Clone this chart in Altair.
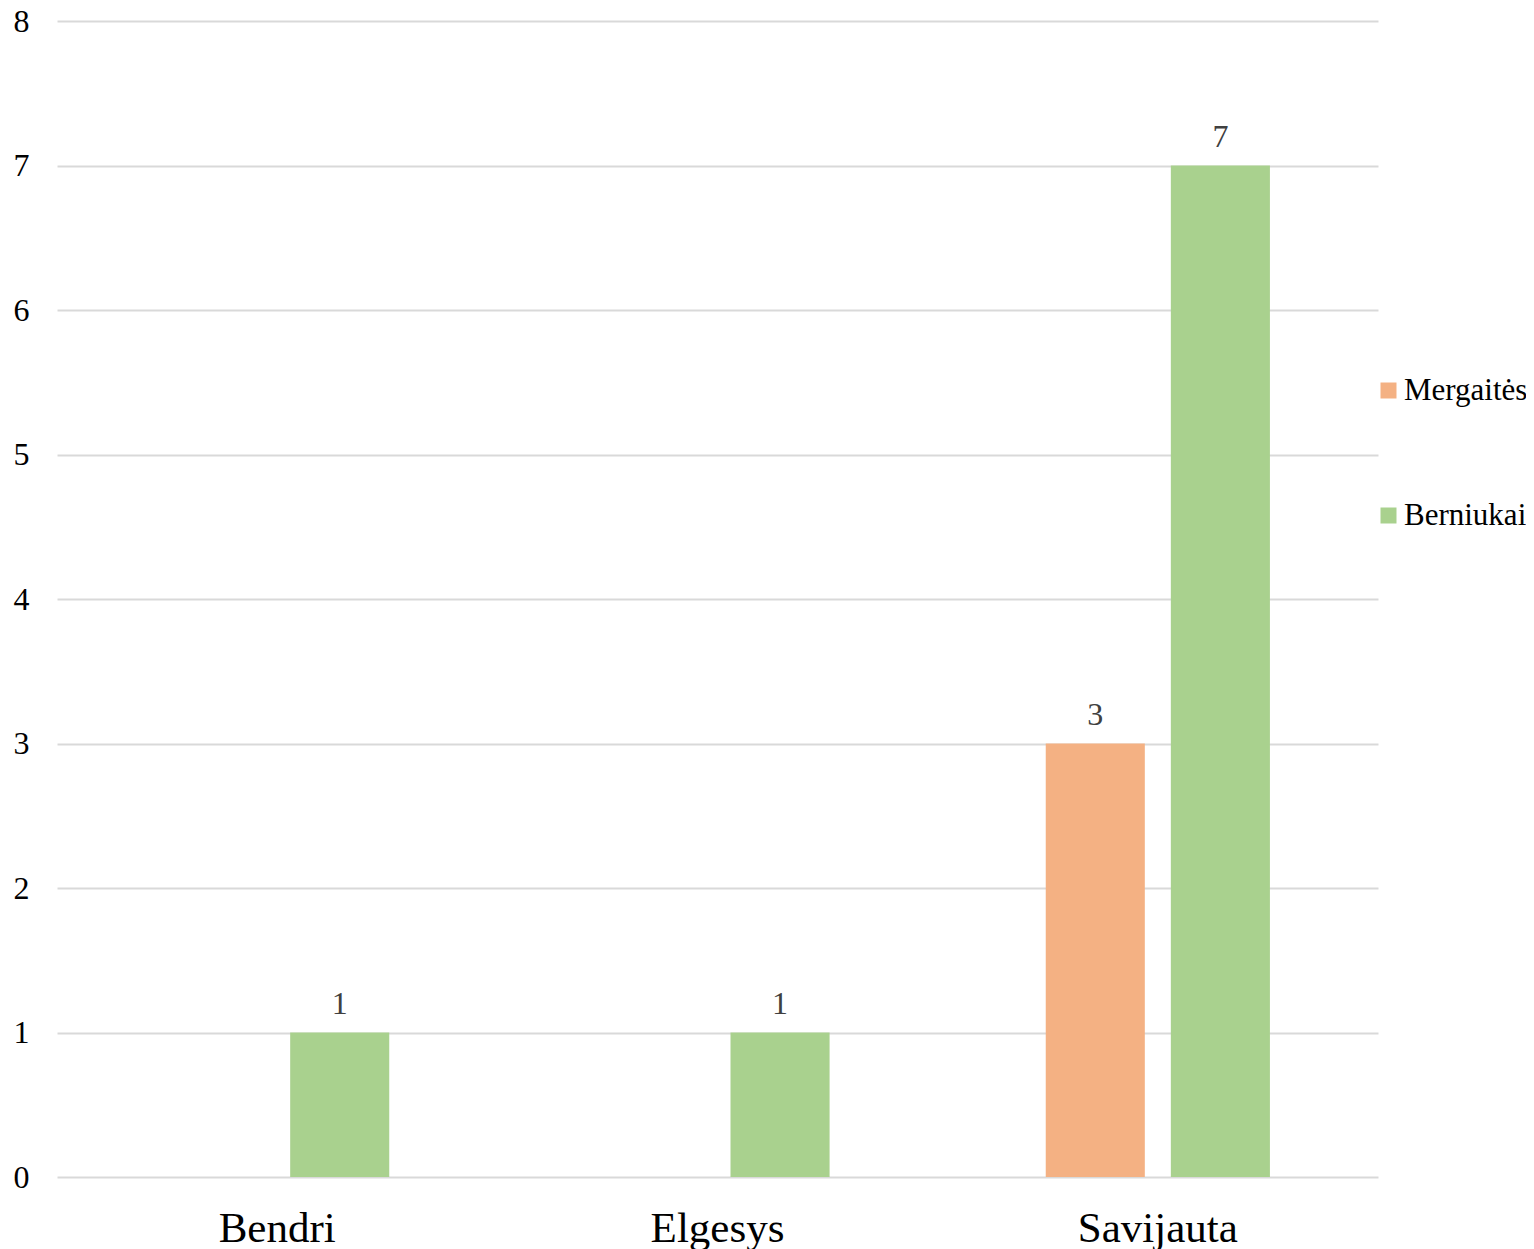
import altair as alt
import pandas as pd

categories = ["Bendri", "Elgesys", "Savijauta"]
series = ["Mergaitės", "Berniukai"]
mergaites = [0, 0, 3]
berniukai = [1, 1, 7]
colors = ["#F4B183", "#A9D18E"]

rows = []
for i, c in enumerate(categories):
    rows.append({"kategorija": c, "grupe": series[0], "reiksme": mergaites[i]})
    rows.append({"kategorija": c, "grupe": series[1], "reiksme": berniukai[i]})
df = pd.DataFrame(rows)

FONT = "Liberation Serif"

x = alt.X("kategorija:N", sort=categories, title=None,
          scale=alt.Scale(paddingInner=0, paddingOuter=0),
          axis=alt.Axis(labelAngle=0, labelFontSize=43, labelFont=FONT, labelColor="#000000",
                        ticks=False, domain=False, labelPadding=30, grid=False))
xo = alt.XOffset("grupe:N", sort=series,
                 scale=alt.Scale(paddingInner=0.208, paddingOuter=0.864))
y = alt.Y("reiksme:Q", title=None,
          scale=alt.Scale(domain=[0, 8], nice=False),
          axis=alt.Axis(values=list(range(9)), labelFontSize=32, labelFont=FONT,
                        labelColor="#000000", ticks=False, domain=False, labelPadding=28,
                        gridColor="#D9D9D9", gridWidth=2))

bars = alt.Chart(df).mark_bar().encode(
    x=x, xOffset=xo, y=y,
    color=alt.Color("grupe:N", sort=series,
                    scale=alt.Scale(domain=series, range=colors),
                    legend=alt.Legend(title=None, orient="none", legendX=1316, legendY=354,
                                      symbolType="square", symbolSize=256, symbolStrokeWidth=0,
                                      labelFont=FONT, labelFontSize=31, labelColor="#000000",
                                      rowPadding=93, labelOffset=0)),
)

labels = alt.Chart(df).transform_filter(alt.datum.reiksme > 0).mark_text(
    font=FONT, fontSize=32, color="#404040", baseline="alphabetic", dy=-19
).encode(x=x, xOffset=xo, y=y, text=alt.Text("reiksme:Q"))

chart = alt.layer(bars, labels).properties(
    width=1321, height=1156,
    autosize=alt.AutoSizeParams(type="none"),
    padding={"left": 49, "top": 13, "right": 148, "bottom": 76},
).configure_view(stroke=None)

chart.save("out.html", embed_options={"renderer": "svg", "actions": False})
